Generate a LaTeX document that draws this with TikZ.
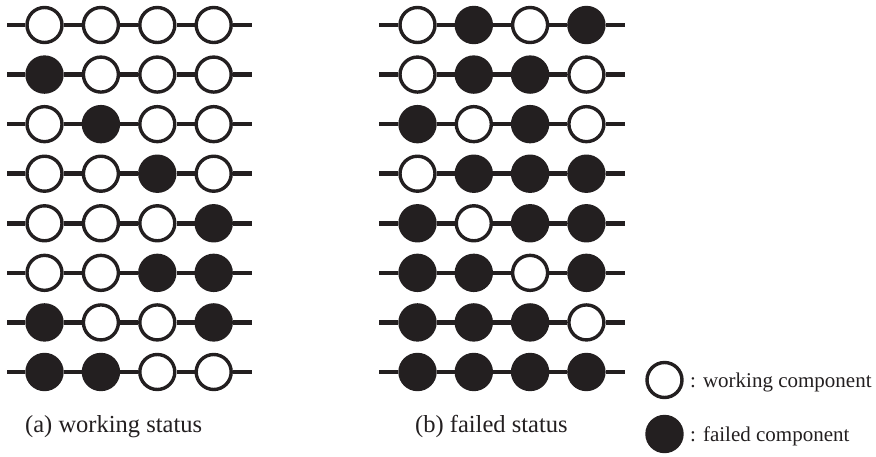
\documentclass[tikz,border=0pt]{standalone}
\usepackage{fontspec}
\setmainfont{Liberation Serif}
\definecolor{ink}{HTML}{231F20}
\begin{document}
\begin{tikzpicture}[x=1pt,y=-1pt,
 comp/.style={circle,draw=ink,line width=3.4pt,minimum size=35pt,inner sep=0pt},
 wire/.style={draw=ink,line width=4.5pt},
 lbl/.style={font=\fontsize{24.5}{28}\selectfont,text=ink,inner sep=0pt,anchor=base west},
 leg/.style={font=\fontsize{21}{24}\selectfont,text=ink,inner sep=0pt,anchor=base west}]
\useasboundingbox (0,0) rectangle (876,456);
% (a) working status
\foreach \r/\fa/\fb/\fc/\fd in {1/white/white/white/white, 2/ink/white/white/white,
  3/white/ink/white/white, 4/white/white/ink/white, 5/white/white/white/ink,
  6/white/white/ink/ink, 7/ink/white/white/ink, 8/ink/ink/white/white}{
  \pgfmathsetmacro\yy{25+49.57*(\r-1)}
  \coordinate (L-\r-s) at (7,\yy);
  \coordinate (L-\r-e) at (252,\yy);
  \foreach \f [count=\c] in {\fa,\fb,\fc,\fd}
    \node[comp,fill=\f] (L-\r-\c) at ({44.5+56.4*(\c-1)},\yy) {};
  \draw[wire] (L-\r-s) -- (L-\r-1) -- (L-\r-2) -- (L-\r-3) -- (L-\r-4) -- (L-\r-e);
}
% (b) failed status
\foreach \r/\fa/\fb/\fc/\fd in {1/white/ink/white/ink, 2/white/ink/ink/white,
  3/ink/white/ink/white, 4/white/ink/ink/ink, 5/ink/white/ink/ink,
  6/ink/ink/white/ink, 7/ink/ink/ink/white, 8/ink/ink/ink/ink}{
  \pgfmathsetmacro\yy{25+49.57*(\r-1)}
  \coordinate (R-\r-s) at (379,\yy);
  \coordinate (R-\r-e) at (625,\yy);
  \foreach \f [count=\c] in {\fa,\fb,\fc,\fd}
    \node[comp,fill=\f] (R-\r-\c) at ({417.5+56.3*(\c-1)},\yy) {};
  \draw[wire] (R-\r-s) -- (R-\r-1) -- (R-\r-2) -- (R-\r-3) -- (R-\r-4) -- (R-\r-e);
}
\node[lbl] (capa) at (25,432.5) {(a) working status};
\node[lbl] (capb) at (415,432) {(b) failed status};
% legend
\node[comp,fill=white] (kw) at (664.5,380) {};
\node[comp,fill=ink] (kf) at (664.5,434) {};
\node[leg] (tw) at (690,387.3) {: working component};
\node[leg] (tf) at (690,441.7) {: failed component};
\end{tikzpicture}
\end{document}
